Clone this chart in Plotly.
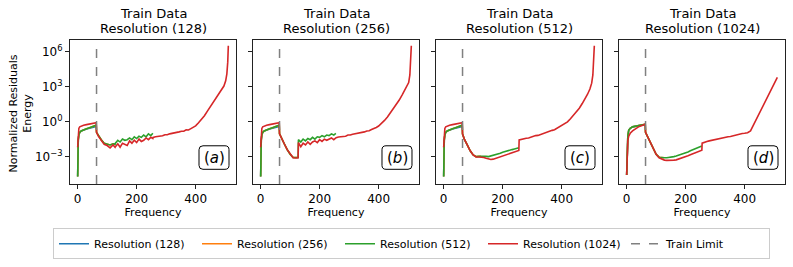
import numpy as np
import plotly.graph_objects as go

# ---------------- data (log10 of normalized residual energy) ----------------
F128 = [0, 1, 2, 4, 7, 12, 20, 30, 40, 50, 58, 63]
F256 = F128 + [64, 70, 80, 90, 100, 110, 120, 127]
F512 = F256 + [128, 136, 144, 152, 160, 168, 176, 184, 192, 200, 208, 216, 224, 232, 240, 248, 255]
F1024 = F512 + [256, 264, 272, 280, 288, 296, 304, 312, 320, 328, 336, 344, 352, 360, 368, 376, 384,
                392, 400, 410, 420, 430, 440, 450, 460, 470, 480, 488, 496, 502, 506, 509, 511]

A_BLUE = [-4.7, -2.3, -1.6, -1.15, -0.92, -0.8, -0.7, -0.63, -0.56, -0.5, -0.45, -0.41]
A_GREEN = [-4.7, -2.3, -1.6, -1.15, -0.92, -0.8, -0.7, -0.62, -0.53, -0.44, -0.37, -0.31,
           -0.92, -1.2, -1.55, -1.85, -1.95, -2.0, -1.9, -1.95,
           -1.85, -1.6, -1.75, -1.5, -1.6, -1.55, -1.4, -1.55, -1.3, -1.45, -1.25, -1.35, -1.15, -1.3, -1.05, -1.2, -1.0]
A_RED = [-2.2, -1.3, -0.85, -0.58, -0.45, -0.37, -0.31, -0.26, -0.21, -0.16, -0.12, -0.09,
         -0.92, -1.25, -1.6, -1.95, -2.05, -2.25, -2.0, -2.2,
         -2.15, -1.9, -2.2, -1.85, -1.95, -2.05, -1.65, -1.85, -1.6, -1.8, -1.5, -1.7, -1.6, -1.4, -1.55, -1.35, -1.45,
         -1.35, -1.3, -1.28, -1.2, -1.22, -1.12, -1.12, -1.05, -1.02, -0.98, -0.92, -0.88, -0.82, -0.82, -0.7, -0.72,
         -0.6, -0.5, -0.36, -0.1, 0.18, 0.5, 0.9, 1.3, 1.68, 2.05, 2.45, 2.75, 3.05, 3.5, 4.1, 5.1, 6.5]

B_BLUE = [-4.7, -2.3, -1.6, -1.15, -0.92, -0.8, -0.7, -0.63, -0.56, -0.5, -0.45, -0.41]
B_GREEN = [-4.7, -2.3, -1.6, -1.15, -0.92, -0.8, -0.7, -0.62, -0.53, -0.44, -0.37, -0.31,
           -1.05, -1.4, -1.9, -2.4, -2.8, -3.08, -3.1, -3.08,
           -1.55, -1.75, -1.5, -1.65, -1.45, -1.55, -1.35, -1.5, -1.3, -1.35, -1.2, -1.3, -1.15, -1.2, -1.05, -1.15, -1.0]
B_RED = [-2.2, -1.3, -0.85, -0.58, -0.45, -0.37, -0.31, -0.26, -0.21, -0.16, -0.12, -0.09,
         -1.05, -1.4, -1.9, -2.4, -2.8, -3.1, -3.12, -3.1,
         -1.8, -2.15, -1.85, -2.0, -1.75, -1.95, -1.75, -1.65, -1.8, -1.55, -1.7, -1.5, -1.6, -1.5, -1.4, -1.55, -1.38,
         -1.38, -1.32, -1.3, -1.22, -1.25, -1.15, -1.15, -1.08, -1.05, -1.0, -0.95, -0.9, -0.88, -0.8, -0.78, -0.68,
         -0.62, -0.5, -0.38, -0.15, 0.1, 0.4, 0.75, 1.1, 1.45, 1.85, 2.3, 2.7, 3.05, 3.35, 4.0, 5.0, 6.5]

C_BLUE = [-4.7, -2.3, -1.6, -1.15, -0.92, -0.8, -0.7, -0.63, -0.56, -0.5, -0.45, -0.41]
C_GREEN = [-4.7, -2.3, -1.6, -1.15, -0.92, -0.8, -0.7, -0.62, -0.53, -0.44, -0.37, -0.31,
           -1.06, -1.5, -2.0, -2.5, -2.85, -3.0, -2.98, -2.97,
           -2.95, -2.95, -2.98, -3.0, -2.95, -2.9, -2.85, -2.8, -2.72, -2.62, -2.58, -2.5, -2.45, -2.4, -2.35, -2.3, -2.25]
C_RED = [-2.2, -1.3, -0.85, -0.58, -0.45, -0.37, -0.31, -0.26, -0.21, -0.16, -0.12, -0.09,
         -1.06, -1.5, -2.0, -2.5, -2.85, -3.03, -3.03, -3.03,
         -3.03, -3.08, -3.15, -3.2, -3.25, -3.22, -3.15, -3.08, -2.98, -2.92, -2.85, -2.8, -2.72, -2.65, -2.6, -2.53, -2.48,
         -1.57, -1.5, -1.48, -1.42, -1.4, -1.32, -1.28, -1.2, -1.18, -1.1, -1.05, -0.98, -0.92, -0.85, -0.75, -0.7,
         -0.58, -0.48, -0.36, -0.2, -0.02, 0.25, 0.55, 0.85, 1.15, 1.55, 1.95, 2.35, 2.8, 3.3, 4.0, 5.0, 6.5]

D_BLUE = [-4.57, -2.8, -1.9, -1.2, -0.75, -0.58, -0.45, -0.38, -0.33, -0.3, -0.28, -0.27]
D_GREEN = [-4.57, -2.8, -1.9, -1.2, -0.75, -0.58, -0.45, -0.38, -0.32, -0.28, -0.24, -0.22,
           -0.92, -1.25, -1.75, -2.3, -2.8, -3.05, -3.1, -3.1,
           -3.1, -3.1, -3.08, -3.05, -3.0, -2.95, -2.88, -2.82, -2.78, -2.72, -2.6, -2.5, -2.42, -2.35, -2.25, -2.15, -2.1]
D_RED = [-4.57, -3.2, -2.3, -1.6, -1.25, -1.0, -0.8, -0.6, -0.45, -0.35, -0.27, -0.22,
         -0.92, -1.25, -1.75, -2.3, -2.8, -3.1, -3.25, -3.28,
         -3.3, -3.32, -3.33, -3.33, -3.3, -3.28, -3.22, -3.15, -3.08, -3.0, -2.93, -2.85, -2.78, -2.7, -2.62, -2.55, -2.45,
         -1.85, -1.75, -1.7, -1.65, -1.6, -1.55, -1.52, -1.48, -1.42, -1.4, -1.35, -1.3, -1.28, -1.22, -1.2, -1.12,
         -1.1, -1.02, -1.0, -0.95, -0.8, -0.3, 0.2, 0.7, 1.2, 1.7, 2.2, 2.6, 3.0, 3.3, 3.5, 3.65, 3.8]

# orange (256) lies under the green/red curves
A_ORANGE = A_GREEN[:20]
B_ORANGE = B_GREEN[:20]
C_ORANGE = C_GREEN[:20]
D_ORANGE = D_GREEN[:20]

PANELS = [
    ("128", "a", A_BLUE, A_ORANGE, A_GREEN, A_RED),
    ("256", "b", B_BLUE, B_ORANGE, B_GREEN, B_RED),
    ("512", "c", C_BLUE, C_ORANGE, C_GREEN, C_RED),
    ("1024", "d", D_BLUE, D_ORANGE, D_GREEN, D_RED),
]
SERIES_NAMES = ["Resolution (128)", "Resolution (256)", "Resolution (512)", "Resolution (1024)"]
COLORS = ["#1f77b4", "#ff7f0e", "#2ca02c", "#d62728"]
GRIDS = [F128, F256, F512, F1024]
TRAIN_LIMIT = 64
X_TICKS = [0, 200, 400]
Y_TICKS = [1e-3, 1e0, 1e3, 1e6]
Y_TICKTEXT = ["10<sup>−3</sup>", "10<sup>0</sup>", "10<sup>3</sup>", "10<sup>6</sup>"]

# ---------------- layout geometry (pixels) ----------------
W, H = 793, 267
ML, MR, MT, MB = 70, 8, 40, 80
PW = W - ML - MR
PH = H - MT - MB
PANEL_PX = [(70, 236), (253, 419), (436, 602), (619, 785)]


def px2x(X):
    return (X - ML) / PW


def px2y(Y):
    return (H - MB - Y) / PH


fig = go.Figure()
FONT = "DejaVu Sans"

for i, (res, lab, blue, orange, green, red) in enumerate(PANELS):
    ax = "" if i == 0 else str(i + 1)
    for k, vals in enumerate([blue, orange, green, red]):
        fig.add_trace(go.Scatter(
            x=GRIDS[k], y=10 ** np.array(vals), mode="lines",
            line=dict(color=COLORS[k], width=1.6),
            name=SERIES_NAMES[k], showlegend=(i == 0), legendrank=k,
            xaxis="x" + ax, yaxis="y" + ax))
    fig.add_shape(type="line", x0=TRAIN_LIMIT, x1=TRAIN_LIMIT, y0=0, y1=1,
                  xref="x" + ax, yref="y" + ax + " domain",
                  line=dict(color="#808080", width=1.5, dash="dash"))

    l, r = PANEL_PX[i]
    common_axis = dict(showline=True, linecolor="#222", linewidth=1, mirror=True,
                       ticks="outside", ticklen=4, tickwidth=1, tickcolor="#222",
                       showgrid=False, zeroline=False)
    fig.update_layout(**{
        "xaxis" + ax: dict(domain=[px2x(l), px2x(r)], range=[-26, 537],
                           tickvals=X_TICKS, tickfont=dict(size=12, family=FONT, color="black"),
                           title=dict(text="Frequency", font=dict(size=11, family=FONT, color="black"),
                                      standoff=2),
                           anchor="y" + ax, **common_axis),
        "yaxis" + ax: dict(domain=[0, 1], type="log", range=[-5.35, 7.0],
                           tickvals=Y_TICKS, ticktext=Y_TICKTEXT, showticklabels=(i == 0),
                           tickfont=dict(size=12, family=FONT, color="black"),
                           anchor="x" + ax, **common_axis),
    })

    cx = px2x((l + r) / 2)
    fig.add_annotation(text="Train Data", x=cx, y=px2y(13), xref="paper", yref="paper",
                       showarrow=False, font=dict(size=13, family=FONT, color="black"),
                       xanchor="center", yanchor="middle")
    fig.add_annotation(text=f"Resolution ({res})", x=cx, y=px2y(28), xref="paper", yref="paper",
                       showarrow=False, font=dict(size=13, family=FONT, color="black"),
                       xanchor="center", yanchor="middle")

    # rounded label box
    br = r - 7
    bl = br - 30
    bt, bb = 148, 172
    rad = 4
    pts = [
        ("M", (bl + rad, bb)), ("L", (br - rad, bb)), ("Q", (br, bb), (br, bb - rad)),
        ("L", (br, bt + rad)), ("Q", (br, bt), (br - rad, bt)),
        ("L", (bl + rad, bt)), ("Q", (bl, bt), (bl, bt + rad)),
        ("L", (bl, bb - rad)), ("Q", (bl, bb), (bl + rad, bb)),
    ]
    path = ""
    for p in pts:
        cmd = p[0]
        coords = " ".join(f"{px2x(X):.5f},{px2y(Y):.5f}" for X, Y in p[1:])
        path += f"{cmd} {coords} "
    path += "Z"
    fig.add_shape(type="path", path=path, xref="paper", yref="paper",
                  line=dict(color="black", width=1), fillcolor="white", layer="above")
    fig.add_annotation(text=f"(<i>{lab}</i>)", x=px2x((bl + br) / 2), y=px2y((bt + bb) / 2),
                       xref="paper", yref="paper", showarrow=False,
                       font=dict(size=15, family=FONT, color="black"),
                       xanchor="center", yanchor="middle")

# legend dummy for train limit
fig.add_trace(go.Scatter(x=[None], y=[None], mode="lines", name="Train Limit",
                         line=dict(color="#808080", width=1.5, dash="dash"), legendrank=5))

fig.add_annotation(text="Normalized Residuals<br>Energy", x=px2x(20), y=px2y(115),
                   xref="paper", yref="paper", showarrow=False, textangle=-90,
                   font=dict(size=11, family=FONT, color="black"),
                   xanchor="center", yanchor="middle")

fig.update_layout(
    width=W, height=H, margin=dict(l=ML, r=MR, t=MT, b=MB),
    paper_bgcolor="white", plot_bgcolor="white",
    font=dict(family=FONT, size=11, color="black"),
    legend=dict(orientation="h", x=px2x(53), xanchor="left", y=px2y(248), yanchor="middle",
                bordercolor="#cccccc", borderwidth=1, font=dict(size=11, family=FONT),
                itemwidth=30, tracegroupgap=0, entrywidth=98, entrywidthmode="pixels"),
)

fig.write_html("out.html", config={"displayModeBar": False},
               post_script="document.body.style.margin='0';")
